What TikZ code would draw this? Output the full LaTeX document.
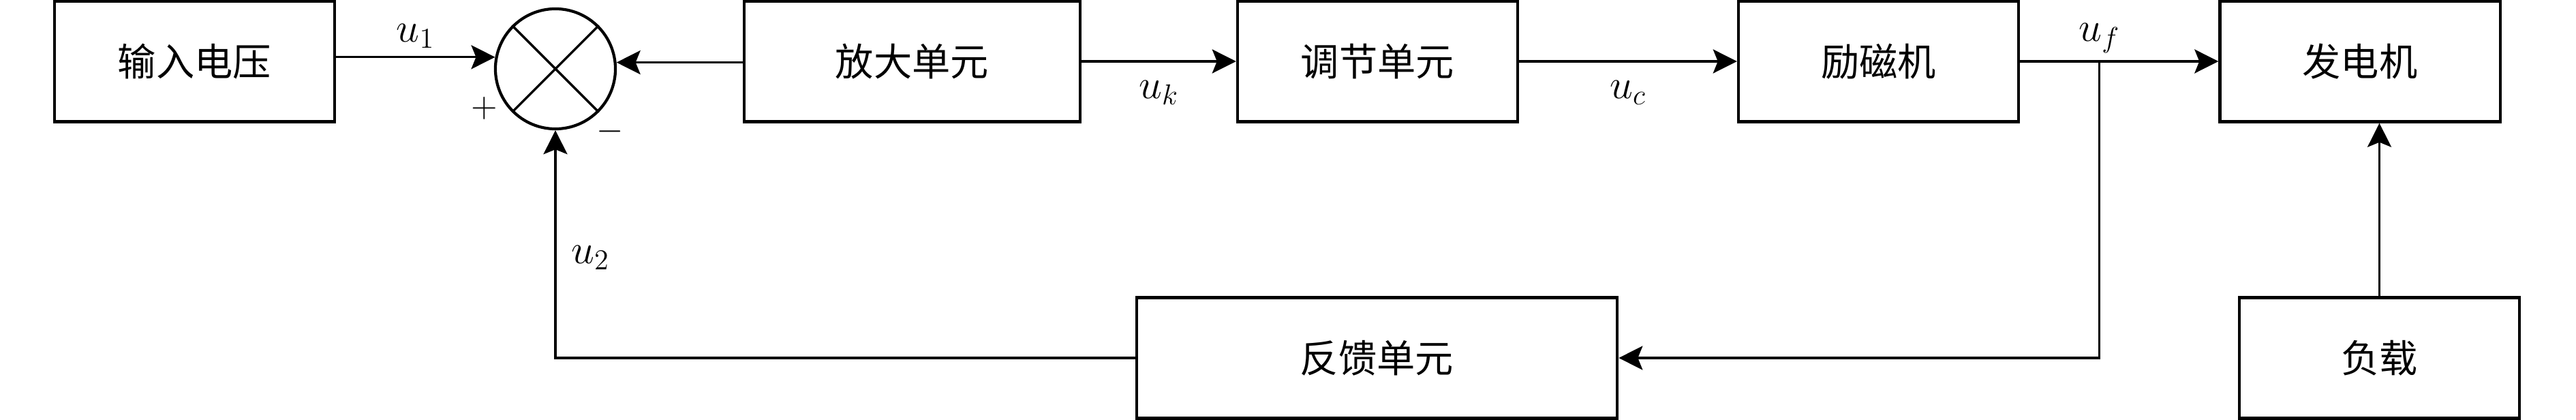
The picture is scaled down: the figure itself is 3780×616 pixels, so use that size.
\documentclass[tikz,border=0pt]{standalone}
\usepackage{amsmath}
\usepackage{fontspec}
\usepackage{tikz}
\usetikzlibrary{positioning,arrows.meta,calc}
\newfontfamily\cjk{Noto Sans CJK SC}
\tikzset{
  block/.style = {draw, line width=1.2pt, minimum width=4.11cm, minimum height=1.77cm,
    inner sep=0pt, font=\cjk\fontsize{16}{19}\selectfont},
  sumnode/.style = {draw, circle, line width=1.2pt, minimum size=1.76cm, inner sep=0pt},
  signal/.style = {line width=0.9pt, -{Stealth[length=3.5mm, width=3.5mm, inset=.7mm]}},
  lbl/.style = {font=\LARGE}
}

\begin{document}
\begin{tikzpicture}[x=0.01cm, y=-0.01cm]
  \useasboundingbox (0,0) rectangle (3780,616);
  % forward path
  \node[block] (input) at (285.5,90) {输入电压};
  \node[sumnode] (sum) at (815,101) {};
  \draw[line width=1pt] (sum.135) -- (sum.-45) (sum.45) -- (sum.-135);
  \node[block, minimum width=4.93cm] (amp) at (1338.5,90) {放大单元};
  \node[block] (reg) at (2021.5,90) {调节单元};
  \node[block] (exc) at (2756.5,90) {励磁机};
  \node[block] (gen) at (3463,90) {发电机};
  % feedback path and load
  \node[block, minimum width=7.05cm] (fb) at (2020.5,525) {反馈单元};
  \node[block] (load) at (3491.5,525) {负载};
  \coordinate (br) at ($(exc.east)!0.4!(gen.west)$);

  {\Large
  \node (plus) at (711,159) {$+$};
  \node (minus) at (895,193) {$-$};
  }
  \draw[signal] (sum.169 -| input.east) -- (sum.169) node[midway, above, lbl]{$u_1$};
  \draw[signal] (sum.6 -| amp.west) -- (sum.6);
  \draw[signal] (amp.east) -- (reg.west) node[midway, below=1.5mm, lbl]{$u_k$};
  \draw[signal] (reg.east) -- (exc.west) node[midway, below=1.5mm, lbl]{$u_c$};
  \draw[signal] (exc.east) -- (gen.west);
  \node[above, lbl] (uf) at (br) {$u_f$};
  \draw[signal] (br) |- (fb.east);
  \draw[signal] (fb.west) -| (sum.south) node[pos=0.72, right=1mm, lbl]{$u_2$};
  \draw[signal] (load.north) -- (load.north |- gen.south);
\end{tikzpicture}
\end{document}
